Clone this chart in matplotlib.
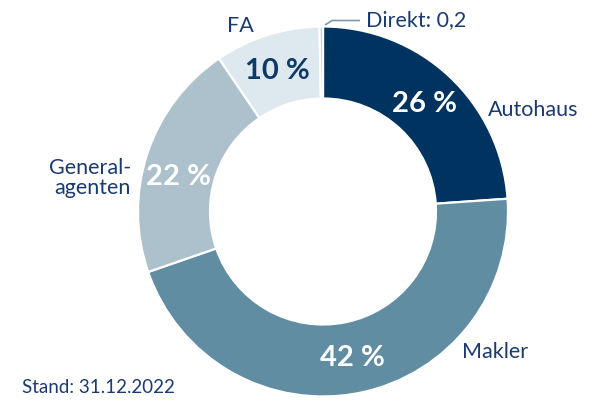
import numpy as np
import matplotlib
matplotlib.use('Agg')
from matplotlib import pyplot as plt

# Shares as drawn in the picture (ring order, clockwise from 12 o'clock)
channels = ['Autohaus', 'Makler', 'Generalagenten', 'FA', 'Direkt']
shares = [23.9, 45.8, 20.8, 9.2, 0.3]
pct_labels = ['26 %', '42 %', '22 %', '10 %', None]
colors = ['#00335f', '#618da3', '#adc1cc', '#dee8ef', '#c4c8cb']
pct_colors = ['white', 'white', 'white', '#103a66', None]
# small angular nudge (deg) of each percent label off the segment middle
pct_nudge = [0, 0, 4.5, 0, 0]

navy = '#1b3a70'
plt.rcParams['font.family'] = ['Lato', 'DejaVu Sans']

W, H = 592, 402
fig = plt.figure(figsize=(W / 100, H / 100), dpi=100)
ax = fig.add_axes([0, 0, 1, 1])

cx, cy = 323, H - 212.5
r_out, r_in = 185, 113

wedges, _ = ax.pie(
    shares,
    colors=colors,
    startangle=90,
    counterclock=False,
    radius=r_out,
    center=(cx, cy),
    wedgeprops=dict(width=r_out - r_in, edgecolor='white', linewidth=1.6),
    frame=True,
)
ax.set_xlim(0, W)
ax.set_ylim(0, H)
ax.set_aspect('equal')
ax.axis('off')

# Percent labels in the middle of each ring segment
r_mid = (r_out + r_in) / 2
for w, lab, col, nd in zip(wedges, pct_labels, pct_colors, pct_nudge):
    if lab is None:
        continue
    ang = np.deg2rad((w.theta1 + w.theta2) / 2 + nd)
    ax.text(cx + r_mid * np.cos(ang), cy + r_mid * np.sin(ang), lab,
            color=col, fontsize=21, fontweight='bold',
            ha='center', va='center')

# Category labels
lab_fs = 15.5
ax.text(488, H - 110, 'Autohaus', color=navy, fontsize=lab_fs,
        ha='left', va='center')
ax.text(462, H - 352, 'Makler', color=navy, fontsize=lab_fs,
        ha='left', va='center')
ax.text(131, H - 178, 'General-\nagenten', color=navy, fontsize=lab_fs,
        ha='right', va='center', multialignment='right', linespacing=1.0)
ax.text(240, H - 26, 'FA', color=navy, fontsize=lab_fs,
        ha='center', va='center')

# Direkt with leader line
ax.plot([325, 332, 360], [H - 26, H - 21.5, H - 21.5], color='#7f96aa',
        lw=1.2, solid_capstyle='butt')
ax.text(366, H - 20, 'Direkt: 0,2', color=navy, fontsize=lab_fs,
        ha='left', va='center')

ax.text(22, H - 388, 'Stand: 31.12.2022', color=navy, fontsize=13.5,
        ha='left', va='center')

fig.savefig('out.png', dpi=100, facecolor='white')
